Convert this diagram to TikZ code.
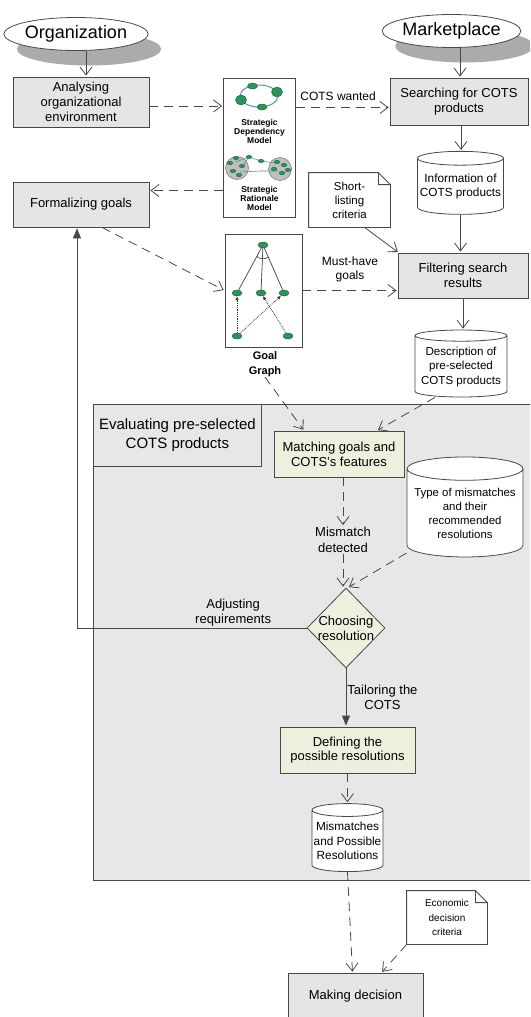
\documentclass[tikz,border=0pt]{standalone}
\usepackage{fontspec}
\setmainfont{Liberation Sans}
\usetikzlibrary{arrows.meta,shapes.geometric,shadows}

\definecolor{linegrey}{RGB}{72,72,72}
\definecolor{boxgrey}{RGB}{229,229,229}
\definecolor{lanegrey}{RGB}{231,231,231}
\definecolor{actfill}{RGB}{238,239,221}
\definecolor{ringblue}{RGB}{95,140,170}
\definecolor{goalgreen}{RGB}{40,150,90}

\begin{document}
\begin{tikzpicture}[x=1pt,y=-1pt,line width=0.8pt,
    proc/.style={rectangle,draw=linegrey,fill=boxgrey,inner sep=0pt,align=center,
      font=\fontsize{13}{14.7}\selectfont},
    act/.style={proc,fill=actfill},
    src/.style={ellipse,draw=linegrey,fill=white,inner sep=0pt,minimum width=118pt,
      minimum height=33pt,font=\fontsize{18}{20}\selectfont,
      drop shadow={shadow xshift=13pt,shadow yshift=-15pt,fill=black!33,opacity=1}},
    store/.style={cylinder,shape border rotate=90,draw=linegrey,fill=white,inner sep=0pt,
      align=center,font=\fontsize{11.8}{14.5}\selectfont},
    memo/.style={inner sep=0pt,align=center},
    decide/.style={diamond,draw=linegrey,fill=actfill,inner sep=0pt,minimum width=78pt,
      minimum height=80pt},
    lab/.style={align=center,font=\fontsize{12}{14.5}\selectfont,inner sep=1pt},
    model/.style={align=center,font=\fontsize{8.5}{9}\selectfont\bfseries,inner sep=0pt},
    flow/.style={draw=linegrey,shorten >=1pt,-{Straight Barb[length=8pt,width=12pt]}},
    dflow/.style={flow,dash pattern=on 9pt off 6pt},
    sflow/.style={draw=linegrey,shorten >=1pt,-{Triangle[length=10pt,width=8pt]}},
    goal/.style={ellipse,fill=goalgreen,draw=goalgreen!60!black,line width=0.4pt,
      inner sep=0pt,minimum width=10pt,minimum height=6pt}]
  \useasboundingbox (0,0) rectangle (530,1017);
  \clip (0,0) rectangle (530,1017);

  \filldraw[fill=lanegrey,draw=linegrey] (93,404) rectangle (540,880);
  \node[proc,fill=lanegrey,anchor=north west,minimum width=168pt,minimum height=62pt,
    font=\fontsize{15}{19}\selectfont] (evl) at (93,404) {Evaluating pre-selected\\COTS products};

  \node[src] (org) at (76,34) {Organization};
  \node[src] (mkt) at (451.5,31) {Marketplace};

  \node[proc,minimum width=136pt,minimum height=50pt] (ana) at (81,102) {Analysing\\organizational\\environment};
  \node[proc,minimum width=138pt,minimum height=47pt] (sea) at (459,101.5) {Searching for COTS\\products};
  \node[proc,minimum width=136pt,minimum height=45pt] (frm) at (81,204.5) {Formalizing goals};
  \node[proc,minimum width=130pt,minimum height=45pt] (flt) at (463,275.5) {Filtering search\\results};

  \node[draw=linegrey,fill=white,minimum width=72pt,minimum height=139pt] (sm) at (259.5,147.5) {};
  \draw[ringblue,line width=1pt] (259,96) ellipse [x radius=19,y radius=11];
  \foreach \px/\py/\rx/\ry in {241/100/5.5/5,252.5/86/5/3,277/92/5.5/5,262/107/5/3}
    \filldraw[fill=goalgreen,draw=goalgreen!60!black,line width=0.4pt] (\px,\py) ellipse [x radius=\rx,y radius=\ry];
  \node[model] (sdm) at (259.5,131) {Strategic\\Dependency\\Model};
  \filldraw[fill=black!25,draw=black!55,line width=0.5pt] (237,168) circle [radius=11.5] (280,169) circle [radius=11.5];
  \draw[ringblue,line width=0.6pt] (235,162) -- (249,157) -- (261,161) -- (275,163)
    (240,172) -- (261,171) -- (278,171) (249,157) -- (243,166);
  \foreach \px/\py in {230/163,236/158,242/166,233/171,239/175,277/162,284/165,274/169,282/173,288/170,261/161,249/157}
    \filldraw[fill=goalgreen,draw=goalgreen!60!black,line width=0.3pt] (\px,\py) ellipse [x radius=2.8,y radius=1.8];
  \node[model] (srm) at (259.5,198) {Strategic\\Rationale\\Model};

  \node[draw=linegrey,fill=white,minimum width=77pt,minimum height=113pt] (gg) at (263.5,290.5) {};
  \node[goal] (g1) at (263,245) {};
  \node[goal] (g2) at (237,293) {};
  \node[goal] (g3) at (261,293) {};
  \node[goal] (g4) at (284,293) {};
  \node[goal] (g5) at (237,336) {};
  \node[goal] (g6) at (288,336) {};
  \draw[black!75,line width=0.7pt] (g1) -- (g2) (g1) -- (g3) (g1) -- (g4);
  \draw[black!75,line width=0.6pt] (256.8,256.4) .. controls (260,259.5) and (265.5,259.5) .. (268.2,256.9);
  \draw[black!80,line width=0.8pt,densely dotted,-{Latex[length=4pt,width=3.5pt]}] (g5) -- (g2);
  \draw[black!80,line width=0.8pt,densely dotted,-{Latex[length=4pt,width=3.5pt]}] (g5) -- (g4);
  \draw[black!80,line width=0.8pt,densely dotted,-{Latex[length=4pt,width=3.5pt]}] (g6) -- (g3);
  \node[model,font=\fontsize{11}{15}\selectfont\bfseries] (ggl) at (265,364) {Goal\\Graph};

  \node[store,minimum width=86pt,minimum height=63pt,aspect=0.17] (inf) at (460.5,186.5) {Information of\\COTS products};
  \node[store,minimum width=92pt,minimum height=67pt,aspect=0.14,font=\fontsize{11.6}{14.5}\selectfont] (dsc) at (461,366.5) {Description of\\pre-selected\\COTS products};
  \node[store,minimum width=116pt,minimum height=100pt,aspect=0.23,font=\fontsize{11.4}{14}\selectfont] (typ) at (465,513) {Type of mismatches\\and their\\recommended\\resolutions};
  \node[store,minimum width=71pt,minimum height=68pt,aspect=0.19] (mpr) at (347.5,841) {Mismatches\\and Possible\\Resolutions};

  \node[memo,minimum width=81pt,minimum height=54pt,font=\fontsize{11.5}{14}\selectfont] (shl) at (349.5,200) {Short-\\listing\\criteria};
  \node[memo,minimum width=80pt,minimum height=53pt,font=\fontsize{10}{14.5}\selectfont] (eco) at (447,917.5) {Economic\\decision\\criteria};
  \foreach \n in {shl,eco}
    \draw[linegrey] (\n.north west) -- ([xshift=-12pt]\n.north east) -- ([yshift=-12pt]\n.north east)
      -- (\n.south east) -- (\n.south west) -- cycle
      ([xshift=-12pt]\n.north east) |- ([yshift=-12pt]\n.north east);

  \node[act,minimum width=130pt,minimum height=46pt] (mat) at (339,454) {Matching goals and\\COTS's features};
  \node[lab,font=\fontsize{13}{15.5}\selectfont] (mis) at (343,540) {Mismatch\\detected};
  \node[decide,label={[lab,font=\fontsize{13}{15}\selectfont]center:{Choosing\\resolution}}] (cho) at (346,628) {};
  \node[act,minimum width=135pt,minimum height=46pt] (dfn) at (347.5,750) {Defining the\\possible resolutions};
  \node[proc,minimum width=135pt,minimum height=46pt] (mak) at (355.5,996) {Making decision};

  \coordinate (orgin) at ([xshift=5pt]ana.north);
  \draw[flow] (orgin |- org.south) -- (orgin);
  \coordinate (mktin) at ([xshift=1pt]sea.north);
  \draw[flow] (mktin |- mkt.south) -- (mktin);
  \coordinate (anaout) at ([yshift=-4pt]ana.east);
  \draw[dflow] (anaout) -- (anaout -| sm.west);
  \coordinate (seain) at ([yshift=-6pt]sea.west);
  \draw[dflow] (seain -| sm.east) -- (seain) node[lab,above=5pt,pos=0.45] {COTS wanted};
  \coordinate (frmin) at ([yshift=14pt]frm.east);
  \draw[dflow] (frmin -| sm.west) -- (frmin);
  \draw[flow] ([xshift=2pt]sea.south) -- ([xshift=2pt]sea.south |- inf.north);
  \draw[flow] (inf.south) -- (inf.south |- flt.north);
  \draw[flow] ([xshift=15pt]shl.south) -- ([xshift=1pt]flt.north west);
  \draw[dflow] (gg.east) -- (gg.east -| flt.west) node[lab,above=7pt,midway] {Must-have\\goals};
  \draw[dflow] ([xshift=21pt]frm.south) -- (gg.west);
  \draw[flow] (flt.south) -- (flt.south |- dsc.north);
  \draw[dflow] (ggl.south) -- ([xshift=-35pt]mat.north);
  \draw[dflow] ([xshift=-26pt]dsc.south) -- ([xshift=38pt]mat.north);
  \draw[dflow] (mis.north |- mat.south) -- (mis.north);
  \draw[dflow] (mis.south) -- (mis.south |- cho.north);
  \draw[dflow] ([yshift=-40pt]typ.west) -- ([xshift=2pt]cho.north);
  \draw[sflow] (cho.west) -| ([xshift=-4pt]frm.south)
    node[lab,above,pos=0.16,font=\fontsize{13}{15}\selectfont] {Adjusting\\requirements};
  \draw[sflow] (cho.south) -- (cho.south |- dfn.north)
    node[lab,right,midway,font=\fontsize{13}{15}\selectfont] {Tailoring the\\COTS};
  \draw[dflow] (dfn.south) -- (dfn.south |- mpr.north);
  \draw[dflow] (mpr.south) -- ([xshift=-3pt]mak.north);
  \draw[dflow] (eco.south west) -- ([xshift=26pt]mak.north);
\end{tikzpicture}
\end{document}
